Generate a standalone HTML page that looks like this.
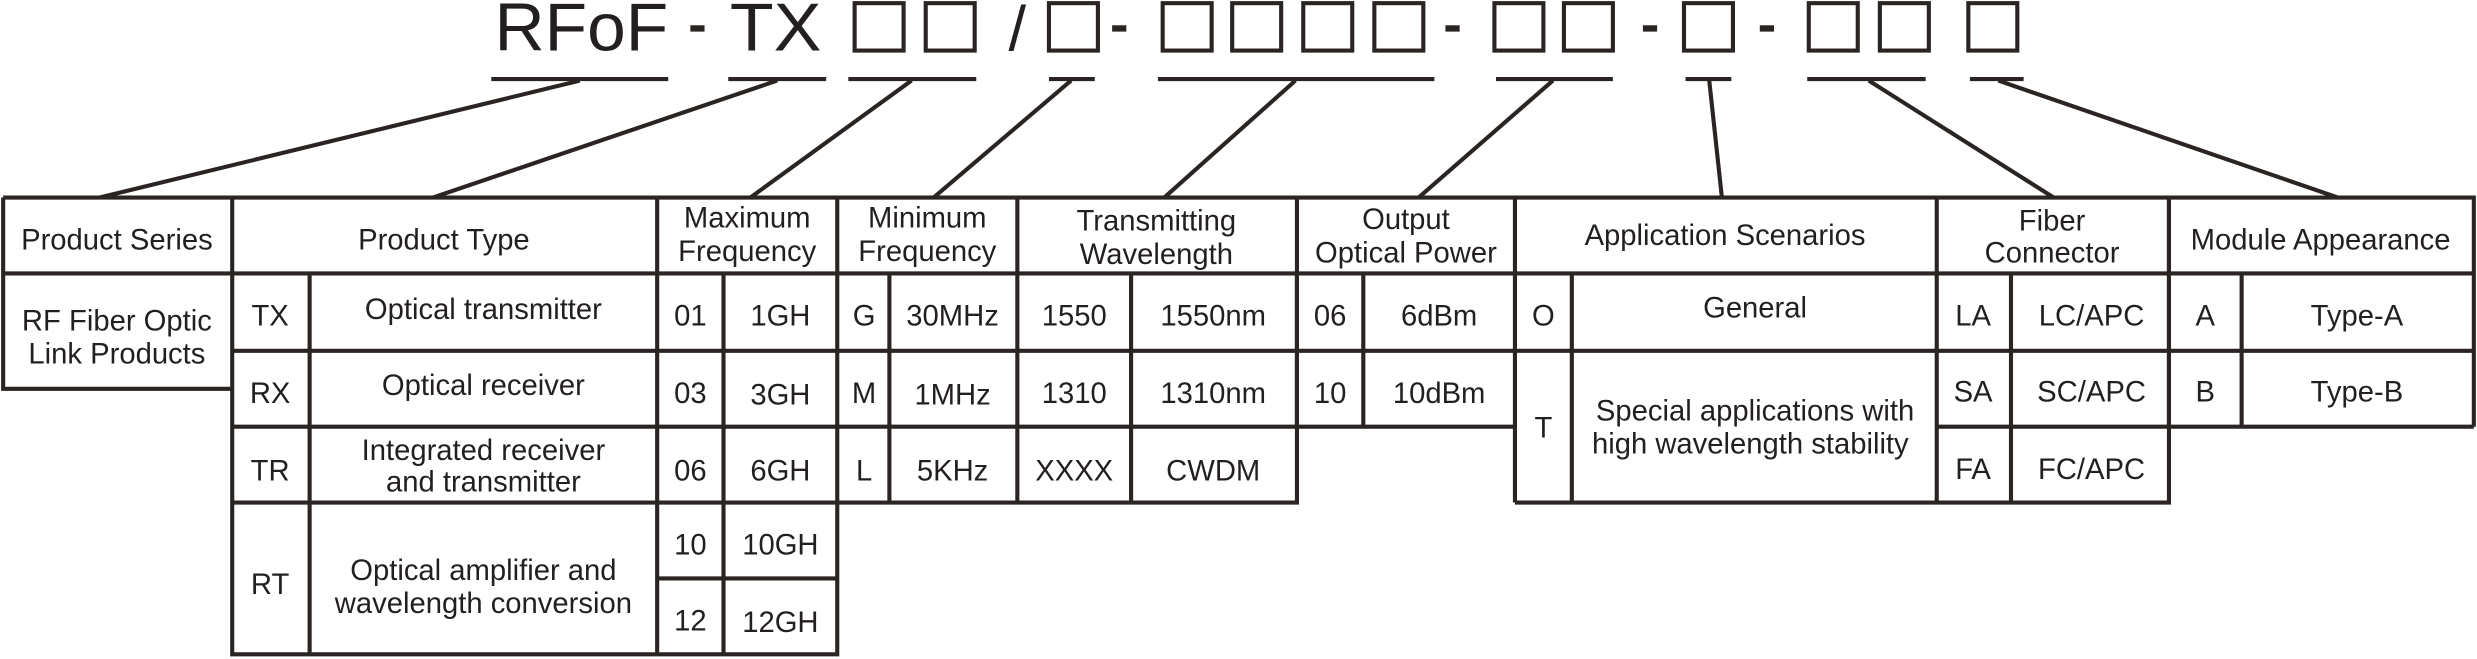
<!DOCTYPE html>
<html><head><meta charset="utf-8"><style>
html,body{margin:0;padding:0;background:#fff;}
svg{display:block;}
text{font-family:"Liberation Sans",sans-serif;fill:#231f1e;font-size:18.5px;text-anchor:middle;}
</style></head><body>
<svg width="2477" height="659" viewBox="0 0 1568 417" preserveAspectRatio="none" xmlns="http://www.w3.org/2000/svg">
<g fill="none" stroke="#2a2523" stroke-width="2.6">
<rect x="541" y="2" width="31" height="30"/><rect x="586" y="2" width="31" height="30"/>
<rect x="664" y="2" width="31" height="30"/>
<rect x="736" y="2" width="31" height="30"/><rect x="780" y="2" width="31" height="30"/><rect x="825" y="2" width="31" height="30"/><rect x="870" y="2" width="31" height="30"/>
<rect x="946" y="2" width="31" height="30"/><rect x="990" y="2" width="31" height="30"/>
<rect x="1066" y="2" width="31" height="30"/>
<rect x="1145" y="2" width="31" height="30"/><rect x="1190" y="2" width="31" height="30"/>
<rect x="1246" y="2" width="31" height="30"/>
<path d="M311 50H423M461 50H523M537 50H618M664 50H693M733 50H908M947 50H1021M1067 50H1096M1144 50H1219M1247 50H1281"/>
<path d="M367 51L63 125M492 51L274 125M577 51L475 125M678 51L591 125M820 51L737 125M983 51L898 125M1082 51L1090 125M1183 51L1300 125M1265 51L1480 125"/>
<path d="M2 125H1566V270M2 125V246H147M2 173H1566M147 125V414H530V318M147 222H1566M147 270H959M1226 270H1566M147 318H821V173M959 318H1373V125M416 366H530"/>
<path d="M196 173V414M416 125V414M458 173V414M530 125V318M563 173V318M644 125V318M716 173V318M821 125V270M863 173V270M959 125V318M995 173V318M1226 125V318M1273 173V318M1373 125V270M1419 173V270"/>
</g>
<g fill="#2a2523">
<rect x="437" y="16" width="9" height="4"/><rect x="704" y="16" width="9" height="4"/><rect x="915" y="16" width="9" height="4"/><rect x="1040" y="16" width="9" height="4"/><rect x="1114" y="16" width="9" height="4"/>
</g>
<text x="368" y="32" style="font-size:43px" textLength="110" lengthAdjust="spacingAndGlyphs">RFoF</text>
<text x="491" y="32" style="font-size:43px" textLength="58" lengthAdjust="spacingAndGlyphs">TX</text>
<text x="644" y="32" style="font-size:40px">/</text>
<text x="74" y="158">Product Series</text>
<text x="281" y="158">Product Type</text>
<text x="473" y="144">Maximum</text><text x="473" y="165">Frequency</text>
<text x="587" y="144">Minimum</text><text x="587" y="165">Frequency</text>
<text x="732" y="146">Transmitting</text><text x="732" y="167">Wavelength</text>
<text x="890" y="145">Output</text><text x="890" y="166">Optical Power</text>
<text x="1092" y="155">Application Scenarios</text>
<text x="1299" y="146">Fiber</text><text x="1299" y="166">Connector</text>
<text x="1469" y="158">Module Appearance</text>
<text x="74" y="209">RF Fiber Optic</text><text x="74" y="230">Link Products</text>
<text x="171" y="206">TX</text><text x="306" y="202">Optical transmitter</text>
<text x="171" y="255">RX</text><text x="306" y="250">Optical receiver</text>
<text x="171" y="304">TR</text><text x="306" y="291">Integrated receiver</text><text x="306" y="311">and transmitter</text>
<text x="171" y="376">RT</text><text x="306" y="367">Optical amplifier and</text><text x="306" y="388">wavelength conversion</text>
<text x="437" y="206">01</text><text x="494" y="206">1GH</text>
<text x="437" y="255">03</text><text x="494" y="256">3GH</text>
<text x="437" y="304">06</text><text x="494" y="304">6GH</text>
<text x="437" y="351">10</text><text x="494" y="351">10GH</text>
<text x="437" y="399">12</text><text x="494" y="400">12GH</text>
<text x="547" y="206">G</text><text x="603" y="206">30MHz</text>
<text x="547" y="255">M</text><text x="603" y="256">1MHz</text>
<text x="547" y="304">L</text><text x="603" y="304">5KHz</text>
<text x="680" y="206">1550</text><text x="768" y="206">1550nm</text>
<text x="680" y="255">1310</text><text x="768" y="255">1310nm</text>
<text x="680" y="304">XXXX</text><text x="768" y="304">CWDM</text>
<text x="842" y="206">06</text><text x="911" y="206">6dBm</text>
<text x="842" y="255">10</text><text x="911" y="255">10dBm</text>
<text x="977" y="206">O</text><text x="1111" y="201">General</text>
<text x="977" y="277">T</text><text x="1111" y="266">Special applications with</text><text x="1108" y="287">high wavelength stability</text>
<text x="1249" y="206">LA</text><text x="1324" y="206">LC/APC</text>
<text x="1249" y="254">SA</text><text x="1324" y="254">SC/APC</text>
<text x="1249" y="303">FA</text><text x="1324" y="303">FC/APC</text>
<text x="1396" y="206">A</text><text x="1492" y="206">Type-A</text>
<text x="1396" y="254">B</text><text x="1492" y="254">Type-B</text>
</svg>
</body></html>
